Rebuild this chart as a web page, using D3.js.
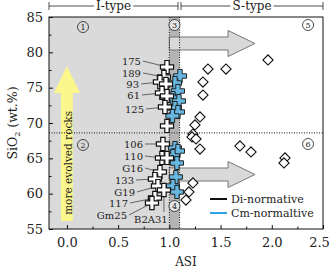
<!DOCTYPE html>
<html lang="en">
<head>
  <meta charset="UTF-8">
  <title>ASI vs SiO2</title>
  <script src='https://d3js.org/d3.v7.min.js'></script>
  <style>
    body { margin: 0; background: #fff; }
    text { font-family: 'DejaVu Serif', serif; }
  </style>
</head>
<body>
</body>
<script>
  const width = 331, height = 269;

  // tick values
  const xTicks = [0, 0.5, 1, 1.5, 2, 2.5];
  const xMinor = [0.25, 0.75, 1.25, 1.75, 2.25];
  const yTicks = [55, 60, 65, 70, 75, 80, 85];
  const yMinor = [57.5, 62.5, 67.5, 72.5, 77.5, 82.5];

  // [ASI, SiO2]
  const cmNormative = [
    [1.104, 76.65], [1.055, 75.66], [1.084, 74.53], [1.035, 73.54],
    [1.094, 73.11], [1.055, 72.12], [1.084, 71.56], [1.030, 71.0],
    [1.055, 66.46], [1.084, 66.04], [1.035, 65.33], [1.074, 64.34],
    [1.064, 62.36], [1.035, 61.08], [1.074, 60.24]
  ];
  const diNormative = [
    [0.977, 77.92], [0.947, 76.51], [0.908, 75.80], [0.967, 75.52],
    [0.928, 74.25], [0.977, 73.82], [0.957, 72.26], [0.977, 69.58],
    [0.937, 67.03], [0.928, 65.05], [0.977, 65.05], [0.908, 63.07],
    [0.859, 62.07], [0.889, 61.08], [0.947, 60.52], [0.859, 59.39],
    [0.830, 58.68]
  ];
  const sType = [
    [1.963, 78.92], [1.377, 77.64], [1.553, 77.64], [1.328, 75.80],
    [1.328, 73.96], [1.299, 70.85], [1.250, 69.72], [1.230, 68.44],
    [1.221, 68.02], [1.260, 67.74], [1.299, 66.32], [1.689, 66.75],
    [1.797, 65.90], [2.129, 65.05], [2.119, 64.34], [1.230, 61.51],
    [1.191, 60.24], [1.162, 59.10]
  ];

  // sample labels: name, label spot (ASI, SiO2), index of the Di-normative point
  const sampleNames = ['175', '189', '93', '61', '125', '106', '110', 'G16', '133', 'G19', '117', 'Gm25'];
  const sampleSpots = [
    [0.723, 78.77], [0.723, 77.08], [0.704, 75.52], [0.714, 73.96], [0.753, 71.98],
    [0.743, 67.03], [0.743, 65.33], [0.743, 63.63], [0.655, 61.93], [0.665, 60.24],
    [0.597, 58.68], [0.587, 56.98]
  ];
  const sampleTargets = [0, 1, 2, 4, 6, 8, 9, 11, 12, 13, 15, 16];

  const svg = d3.select('body').append('svg').attr('width', width).attr('height', height);

  const x = d3.scaleLinear().domain([-0.175, 2.5]).range([49, 323]);
  const y = d3.scaleLinear().domain([55, 85]).range([229, 17]);
  const [x0, x1] = x.range();
  const [y1, y0] = y.range();

  // background regions
  svg.append('rect').attr('x', x0).attr('y', y0).attr('width', x(1) - x0).attr('height', y1 - y0)
    .attr('fill', '#dadada');
  svg.append('rect').attr('x', x(1)).attr('y', y0).attr('width', x(1.1) - x(1)).attr('height', y1 - y0)
    .attr('fill', '#b4b4b4');

  // gray arrows
  function hArrow(xs, xh, xt, ym, sh, hh) {
    const p = [[xs, ym + sh], [xh, ym + sh], [xh, ym + hh], [xt, ym], [xh, ym - hh], [xh, ym - sh], [xs, ym - sh]];
    return 'M' + p.map(d => [x(d[0]), y(d[1])].join(',')).join('L') + 'Z';
  }
  [81.25, 62.71].forEach(ym => {
    svg.append('path').attr('d', hArrow(1.0, 1.573, 1.836, ym, 0.92, 1.84))
      .attr('fill', '#d9d9d9').attr('stroke', '#777').attr('stroke-width', 1);
  });

  // yellow arrow
  const ya = [[-0.058, 56.13], [-0.058, 74.25], [-0.127, 74.25], [0.001, 78.07],
              [0.127, 74.25], [0.058, 74.25], [0.058, 56.13]];
  svg.append('path').attr('d', 'M' + ya.map(d => [x(d[0]), y(d[1])].join(',')).join('L') + 'Z')
    .attr('fill', '#fbf78c');
  svg.append('text').attr('transform', `translate(${x(0) + 5},${y(57.0)}) rotate(-90)`)
    .attr('font-size', 10.5).attr('textLength', 104).attr('lengthAdjust', 'spacingAndGlyphs')
    .attr('fill', '#222').text('more evolved rocks');

  // dotted boundaries
  const dot = sel => sel.attr('stroke', '#111').attr('stroke-width', 1).attr('stroke-dasharray', '1,1.5');
  dot(svg.append('line').attr('x1', x(1)).attr('x2', x(1)).attr('y1', y0).attr('y2', y1));
  dot(svg.append('line').attr('x1', x(1.1)).attr('x2', x(1.1)).attr('y1', y0).attr('y2', y1));
  dot(svg.append('line').attr('x1', x0).attr('x2', x1).attr('y1', y(68.6)).attr('y2', y(68.6)));

  // circled field numbers
  const fields = [['1', 0.157, 83.58], ['2', 0.157, 66.89], ['3', 1.05, 83.87],
                  ['4', 1.05, 58.25], ['5', 2.354, 83.87], ['6', 2.354, 67.03]];
  fields.forEach(([t, a, b]) => {
    svg.append('circle').attr('cx', x(a)).attr('cy', y(b)).attr('r', 5.5)
      .attr('fill', (t === '3' || t === '4') ? '#e6e6e6' : 'none').attr('stroke', '#222').attr('stroke-width', 0.8);
    svg.append('text').attr('x', x(a)).attr('y', y(b)).attr('dy', '0.36em').attr('text-anchor', 'middle')
      .attr('font-size', 8).attr('fill', '#222').text(t);
  });

  // leader lines
  sampleNames.forEach((n, i) => {
    const t = diNormative[sampleTargets[i]];
    svg.append('line').attr('x1', x(sampleSpots[i][0]) + 2).attr('y1', y(sampleSpots[i][1]))
      .attr('x2', x(t[0])).attr('y2', y(t[1])).attr('stroke', '#444').attr('stroke-width', 0.8);
    svg.append('text').attr('x', x(sampleSpots[i][0])).attr('y', y(sampleSpots[i][1])).attr('dy', '0.36em')
      .attr('text-anchor', 'end').attr('font-size', 10).attr('fill', '#222').text(n);
  });
  svg.append('line').attr('x1', x(0.947)).attr('x2', x(0.947)).attr('y1', y(57.4)).attr('y2', y(60.52))
    .attr('stroke', '#444').attr('stroke-width', 0.8);
  svg.append('text').attr('x', x(0.82)).attr('y', y(56.42)).attr('dy', '0.36em').attr('text-anchor', 'middle')
    .attr('font-size', 10).attr('fill', '#222').text('B2A31');

  // points
  const cross = d3.symbol(d3.symbolCross).size(95);
  const diamond = d3.symbol(d3.symbolSquare).size(52);

  svg.append('g').selectAll('path').data(sType).join('path')
    .attr('d', diamond)
    .attr('transform', d => `translate(${x(d[0])},${y(d[1])}) rotate(45)`)
    .attr('fill', '#fff').attr('stroke', '#111').attr('stroke-width', 1.1);

  svg.append('g').selectAll('path').data(cmNormative).join('path')
    .attr('d', cross)
    .attr('transform', d => `translate(${x(d[0])},${y(d[1])})`)
    .attr('fill', '#66b8e2').attr('stroke', '#222').attr('stroke-width', 1);

  svg.append('g').selectAll('path').data(diNormative).join('path')
    .attr('d', cross)
    .attr('transform', d => `translate(${x(d[0])},${y(d[1])})`)
    .attr('fill', '#fff').attr('stroke', '#111').attr('stroke-width', 1.2);

  // legend
  const legend = [['Di-normative', '#111'], ['Cm-normaltive', '#2ea3e6']];
  legend.forEach(([t, c], i) => {
    const ly = 199 + i * 14;
    svg.append('line').attr('x1', 210).attr('x2', 227).attr('y1', ly).attr('y2', ly)
      .attr('stroke', c).attr('stroke-width', 2);
    svg.append('text').attr('x', 231).attr('y', ly).attr('dy', '0.36em')
      .attr('font-size', 11).attr('fill', '#222').text(t);
  });

  // frame
  svg.append('rect').attr('x', x0).attr('y', y0).attr('width', x1 - x0).attr('height', y1 - y0)
    .attr('fill', 'none').attr('stroke', '#111').attr('stroke-width', 1);

  // axes
  svg.append('g').attr('transform', `translate(0,${y1})`)
    .call(d3.axisBottom(x).tickValues(xTicks).tickFormat(d3.format('.1f')).tickSizeInner(-4).tickSizeOuter(0).tickPadding(9));
  svg.append('g').attr('transform', `translate(0,${y1})`)
    .call(d3.axisBottom(x).tickValues(xMinor).tickFormat('').tickSizeInner(-2.5).tickSizeOuter(0));
  svg.append('g').attr('transform', `translate(${x0},0)`)
    .call(d3.axisLeft(y).tickValues(yTicks).tickSizeInner(-4).tickSizeOuter(0).tickPadding(6));
  svg.append('g').attr('transform', `translate(${x0},0)`)
    .call(d3.axisLeft(y).tickValues(yMinor).tickFormat('').tickSizeInner(-2.5).tickSizeOuter(0));
  svg.selectAll('.domain').remove();
  svg.selectAll('.tick line').attr('stroke', '#111');
  svg.selectAll('.tick text').attr('font-family', "'Liberation Serif', serif").attr('font-size', 13).attr('fill', '#222');
  // last label sits against the right edge of the picture
  svg.selectAll('.tick text').filter(d => d === 2.5).attr('dx', -4);

  // axis titles
  svg.append('text').attr('x', (x0 + x1) / 2).attr('y', 262).attr('dy', '0.36em').attr('text-anchor', 'middle')
    .attr('font-size', 12).attr('fill', '#222').text('ASI');
  const yt = svg.append('text').attr('transform', `translate(17,${(y0 + y1) / 2}) rotate(-90)`)
    .attr('text-anchor', 'middle').attr('font-size', 12.5).attr('fill', '#222');
  yt.append('tspan').text('SiO');
  yt.append('tspan').attr('font-size', 8).attr('dy', 3).text('2');
  yt.append('tspan').attr('dy', -3).text(' (wt.%)');

  // header brackets
  const header = [['I-type', x0, 178], ['S-type', 181, x1]];
  header.forEach(([t, a, b]) => {
    const g = svg.append('g');
    g.append('line').attr('x1', a).attr('x2', b).attr('y1', 6).attr('y2', 6).attr('stroke', '#222').attr('stroke-width', 0.8);
    g.append('line').attr('x1', a).attr('x2', a).attr('y1', 2).attr('y2', 10).attr('stroke', '#222').attr('stroke-width', 0.8);
    g.append('line').attr('x1', b).attr('x2', b).attr('y1', 2).attr('y2', 10).attr('stroke', '#222').attr('stroke-width', 0.8);
    const tx = g.append('text').attr('x', (a + b) / 2).attr('y', 6).attr('dy', '0.36em').attr('text-anchor', 'middle')
      .attr('font-size', 12).attr('fill', '#222').text(t);
    const bb = tx.node().getBBox();
    g.insert('rect', 'text').attr('x', bb.x - 2).attr('y', bb.y).attr('width', bb.width + 4).attr('height', bb.height)
      .attr('fill', '#fff');
  });

  console.log('ready..');
</script>
</html>
